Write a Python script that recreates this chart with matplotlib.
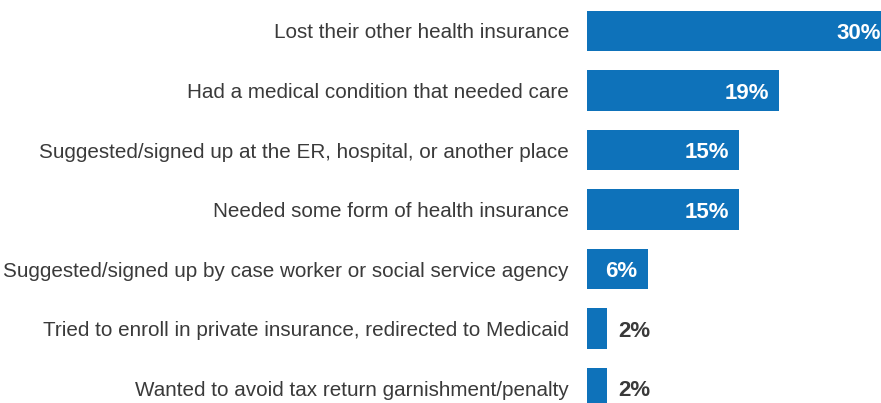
import matplotlib.pyplot as plt

categories = [
    "Lost their other health insurance",
    "Had a medical condition that needed care",
    "Suggested/signed up at the ER, hospital, or another place",
    "Needed some form of health insurance",
    "Suggested/signed up by case worker or social service agency",
    "Tried to enroll in private insurance, redirected to Medicaid",
    "Wanted to avoid tax return garnishment/penalty",
]
values = [30, 19, 15, 15, 6, 2, 2]

plt.rcParams['font.family'] = ['Liberation Sans', 'DejaVu Sans']

fig = plt.figure(figsize=(8.81, 4.03), dpi=100)
ax = fig.add_axes([587 / 881, 0, 1 - 587 / 881, 1])

pos = list(range(len(categories)))
ax.barh(pos, values, height=0.68, color="#0E72BA")
ax.set_xlim(0, 294 / 10.13)
ax.set_ylim(6.252, -0.521)

ax.set_yticks(pos)
ax.set_yticklabels(categories, fontsize=14.9, color="#3a3a3a")
ax.tick_params(axis='y', length=0, pad=13)
ax.set_xticks([])
for s in ax.spines.values():
    s.set_visible(False)

for i, v in enumerate(values):
    if v >= 5:
        ax.text(v - 1.0, i, f"{v}%", ha='right', va='center_baseline', color='white',
                fontsize=16, fontweight='bold', clip_on=False)
    else:
        ax.text(v + 1.1, i, f"{v}%", ha='left', va='center_baseline', color='#3a3a3a',
                fontsize=16, fontweight='bold')

fig.savefig("out.png", dpi=100)
